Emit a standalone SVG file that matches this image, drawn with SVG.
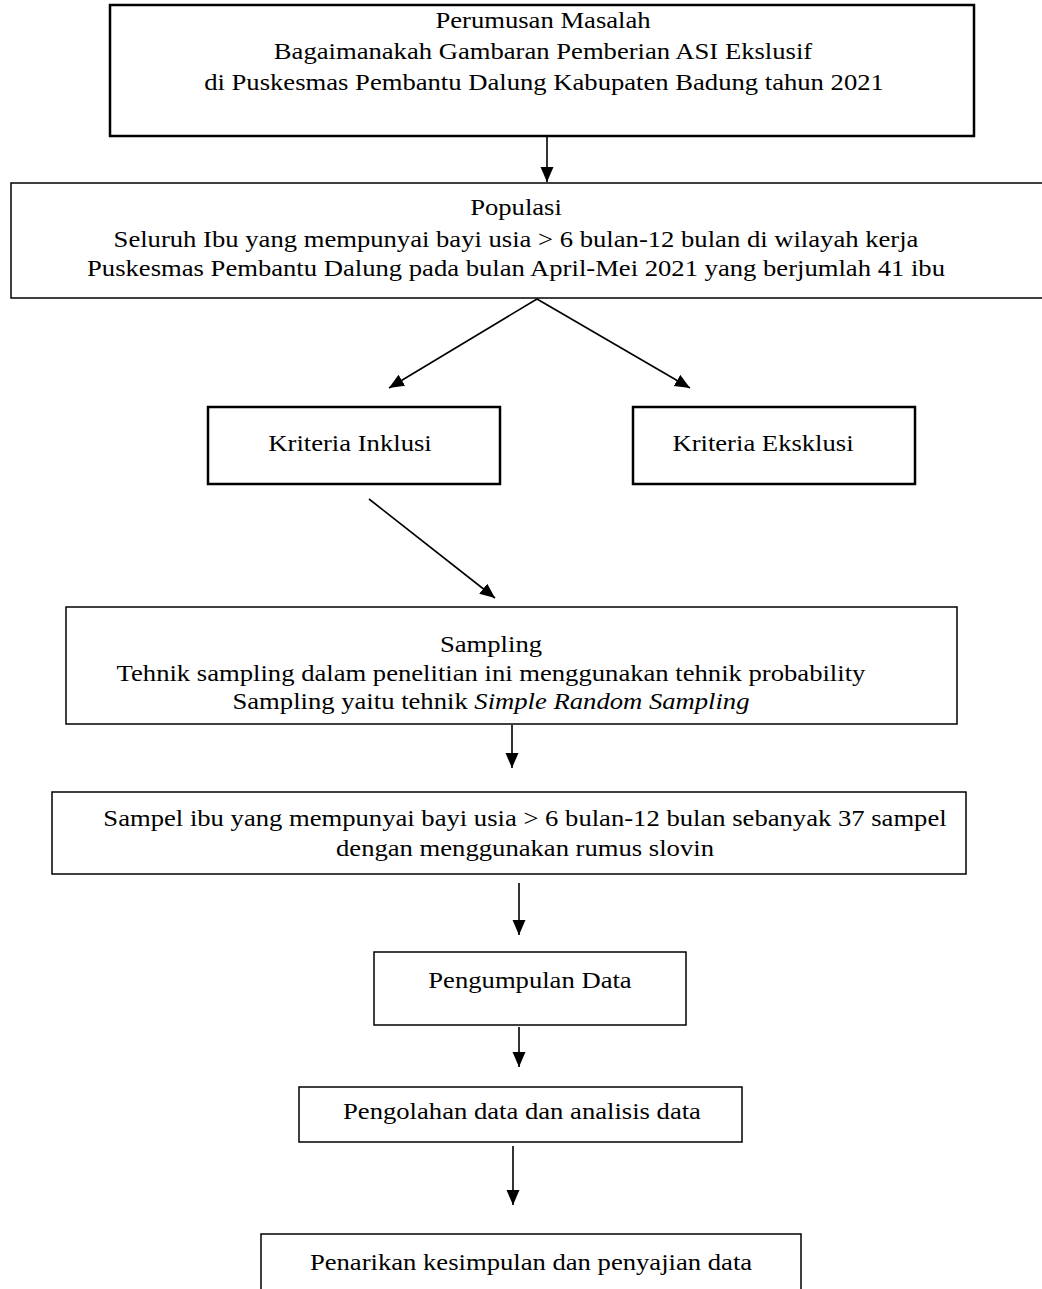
<svg xmlns="http://www.w3.org/2000/svg" width="1042" height="1289" viewBox="0 0 1042 1289">
<style>
text{font-family:"Liberation Serif","Times New Roman",serif;font-size:24px;fill:#000;text-anchor:middle}
.box{fill:#fff;stroke:#000;stroke-width:1.5}
.thick{fill:#fff;stroke:#000;stroke-width:2.5}
.con{stroke:#000;stroke-width:1.6;fill:none}
</style>
<defs>
<marker id="ah" markerUnits="userSpaceOnUse" markerWidth="16" markerHeight="14" refX="15" refY="6.5" orient="auto">
<path d="M0,0 L15,6.5 L0,13 Z" fill="#000"/>
</marker>
</defs>
<rect width="1042" height="1289" fill="#fff"/>
<g id="connectors">
<line class="con" x1="547" y1="137" x2="547" y2="182" marker-end="url(#ah)"/>
<line class="con" x1="537" y1="299" x2="389" y2="388" marker-end="url(#ah)"/>
<line class="con" x1="537" y1="299" x2="690" y2="388" marker-end="url(#ah)"/>
<line class="con" x1="369" y1="499" x2="495" y2="598" marker-end="url(#ah)"/>
<line class="con" x1="512" y1="725" x2="512" y2="768" marker-end="url(#ah)"/>
<line class="con" x1="519" y1="883" x2="519" y2="935" marker-end="url(#ah)"/>
<line class="con" x1="519" y1="1027" x2="519" y2="1067" marker-end="url(#ah)"/>
<line class="con" x1="513" y1="1146" x2="513" y2="1205" marker-end="url(#ah)"/>
</g>
<g id="perumusan">
<rect class="thick" x="110" y="5" width="864" height="131"/>
<text transform="translate(543,28) scale(1.11 1)">Perumusan Masalah</text>
<text transform="translate(543,59) scale(1.11 1)">Bagaimanakah Gambaran Pemberian ASI Ekslusif</text>
<text transform="translate(544,90) scale(1.11 1)">di Puskesmas Pembantu Dalung Kabupaten Badung tahun 2021</text>
</g>
<g id="populasi">
<rect class="box" x="11" y="183" width="1050" height="115" stroke-width="2"/>
<text transform="translate(516,215) scale(1.11 1)">Populasi</text>
<text transform="translate(516,247) scale(1.11 1)">Seluruh Ibu yang mempunyai bayi usia &gt; 6 bulan-12 bulan di wilayah kerja</text>
<text transform="translate(516,276) scale(1.11 1)">Puskesmas Pembantu Dalung pada bulan April-Mei 2021 yang berjumlah 41 ibu</text>
</g>
<g id="inklusi">
<rect class="thick" x="208" y="407" width="292" height="77"/>
<text transform="translate(350,451) scale(1.11 1)">Kriteria Inklusi</text>
</g>
<g id="eksklusi">
<rect class="thick" x="633" y="407" width="282" height="77"/>
<text transform="translate(763,451) scale(1.11 1)">Kriteria Eksklusi</text>
</g>
<g id="sampling">
<rect class="box" x="66" y="607" width="891" height="117"/>
<text transform="translate(491,652) scale(1.11 1)">Sampling</text>
<text transform="translate(491,681) scale(1.11 1)">Tehnik sampling dalam penelitian ini menggunakan tehnik probability</text>
<text transform="translate(491,709) scale(1.11 1)">Sampling yaitu tehnik <tspan font-style="italic">Simple Random Sampling</tspan></text>
</g>
<g id="sampel">
<rect class="box" x="52" y="792" width="914" height="82" stroke-width="2"/>
<text transform="translate(525,826) scale(1.11 1)">Sampel ibu yang mempunyai bayi usia &gt; 6 bulan-12 bulan sebanyak 37 sampel</text>
<text transform="translate(525,856) scale(1.11 1)">dengan menggunakan rumus slovin</text>
</g>
<g id="pengumpulan">
<rect class="box" x="374" y="952" width="312" height="73"/>
<text transform="translate(530,988) scale(1.11 1)">Pengumpulan Data</text>
</g>
<g id="pengolahan">
<rect class="box" x="299" y="1087" width="443" height="55"/>
<text transform="translate(522,1119) scale(1.11 1)">Pengolahan data dan analisis data</text>
</g>
<g id="penarikan">
<rect class="box" x="261" y="1234" width="540" height="80"/>
<text transform="translate(531,1270) scale(1.11 1)">Penarikan kesimpulan dan penyajian data</text>
</g>
</svg>
